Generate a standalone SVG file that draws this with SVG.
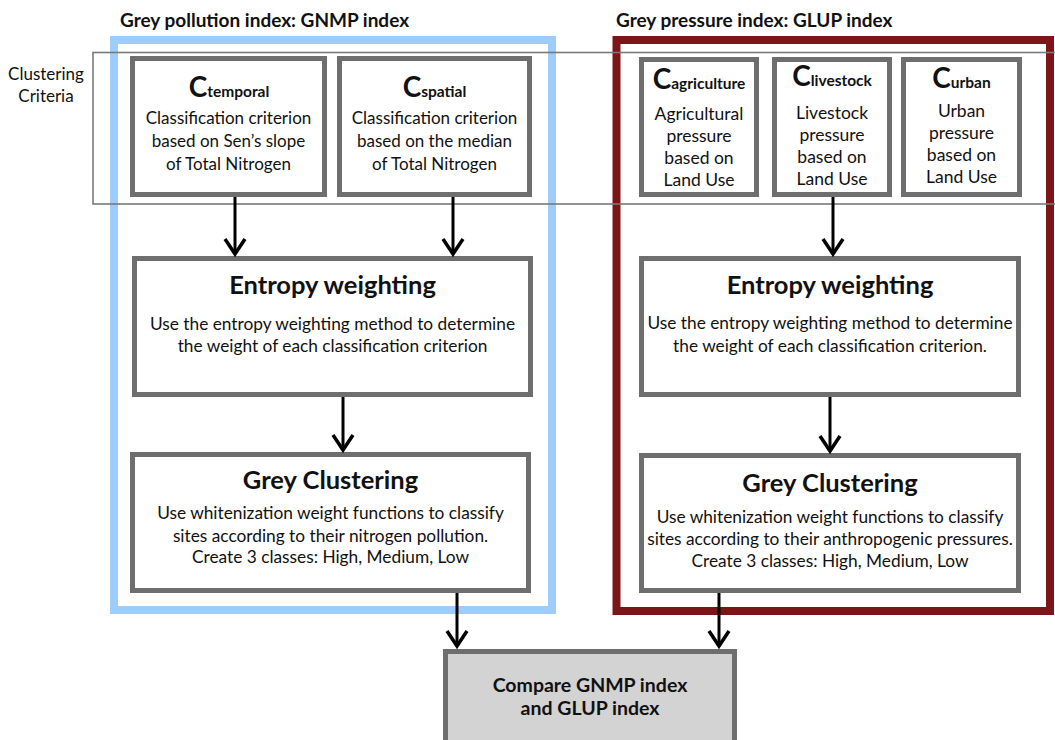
<svg xmlns="http://www.w3.org/2000/svg" width="1055" height="740" viewBox="0 0 1055 740">
<style>
text{font-family:Lato,"Open Sans","Liberation Sans",sans-serif;fill:#111;text-anchor:middle}
.hd{font-size:19px;font-weight:bold;text-anchor:start}
.lab{font-size:17px}
.box{fill:#fff;stroke:#6e6e6e;stroke-width:5}
.cmp{fill:#d3d3d3;stroke:#6e6e6e;stroke-width:5}
.c{font-size:28px;font-weight:bold}
.sub{font-size:15.5px;font-weight:bold}
.b{font-size:17px}
.b2{font-size:17.5px}
.t{font-size:25.5px;font-weight:bold}
.m{font-size:17.3px}
.ct{font-size:19.5px;font-weight:bold}
.conn line{stroke:#000;stroke-width:3}
</style>
<defs>
<marker id="ah" viewBox="0 0 24 24" refX="20" refY="12" markerWidth="24" markerHeight="24" orient="auto" markerUnits="userSpaceOnUse">
<path d="M5,2 L20,12 L5,22" fill="none" stroke="#000" stroke-width="3.5"/>
</marker>
</defs>
<rect width="1055" height="740" fill="#fff"/>

<g id="frame-gnmp">
<rect x="114" y="40" width="438" height="570" fill="none" stroke="#9fcdfb" stroke-width="8"/>
<text class="hd" x="120" y="27">Grey pollution index: GNMP index</text>
</g>
<g id="frame-glup">
<rect x="616.5" y="40" width="433.5" height="571" fill="none" stroke="#7d1518" stroke-width="8"/>
<text class="hd" x="616" y="27">Grey pressure index: GLUP index</text>
</g>

<g id="c-temporal">
<rect class="box" x="132.5" y="58.5" width="192" height="136"/>
<text x="229" y="97"><tspan class="c">C</tspan><tspan class="sub">temporal</tspan></text>
<text class="b" x="228.5" y="124">Classification criterion</text>
<text class="b" x="228.5" y="147">based on Sen’s slope</text>
<text class="b" x="228.5" y="170">of Total Nitrogen</text>
</g>
<g id="c-spatial">
<rect class="box" x="339.5" y="58.5" width="190" height="136"/>
<text x="434.5" y="97"><tspan class="c">C</tspan><tspan class="sub">spatial</tspan></text>
<text class="b" x="434.5" y="124">Classification criterion</text>
<text class="b" x="434.5" y="147">based on the median</text>
<text class="b" x="434.5" y="170">of  Total Nitrogen</text>
</g>

<g id="c-agriculture">
<rect class="box" x="641.5" y="59.5" width="115" height="135"/>
<text x="699" y="89"><tspan class="c">C</tspan><tspan class="sub">agriculture</tspan></text>
<text class="b2" x="699" y="120">Agricultural</text>
<text class="b2" x="699" y="142">pressure</text>
<text class="b2" x="699" y="164">based on</text>
<text class="b2" x="699" y="186">Land Use</text>
</g>
<g id="c-livestock">
<rect class="box" x="774.5" y="59.5" width="115" height="135"/>
<text x="832" y="86"><tspan class="c">C</tspan><tspan class="sub">livestock</tspan></text>
<text class="b2" x="832" y="119">Livestock</text>
<text class="b2" x="832" y="141">pressure</text>
<text class="b2" x="832" y="163">based on</text>
<text class="b2" x="832" y="185">Land Use</text>
</g>
<g id="c-urban">
<rect class="box" x="903.5" y="59.5" width="116" height="135"/>
<text x="961.5" y="88"><tspan class="c">C</tspan><tspan class="sub">urban</tspan></text>
<text class="b2" x="961.5" y="117">Urban</text>
<text class="b2" x="961.5" y="139">pressure</text>
<text class="b2" x="961.5" y="161">based on</text>
<text class="b2" x="961.5" y="183">Land Use</text>
</g>

<g id="criteria-band">
<rect x="93" y="52.5" width="970" height="151.5" fill="none" stroke="#7a7a7a" stroke-width="1.6"/>
<text class="lab" x="46" y="80">Clustering</text>
<text class="lab" x="46" y="102">Criteria</text>
</g>

<g id="entropy-gnmp">
<rect class="box" x="134.5" y="258.5" width="396" height="136"/>
<text class="t" x="332.5" y="294">Entropy weighting</text>
<text class="m" x="332.5" y="330">Use the entropy weighting method to determine</text>
<text class="m" x="332.5" y="352">the weight of each classification criterion</text>
</g>
<g id="cluster-gnmp">
<rect class="box" x="132.5" y="454.5" width="396" height="136"/>
<text class="t" x="330.5" y="489">Grey Clustering</text>
<text class="m" x="330.5" y="519">Use whitenization weight functions to classify</text>
<text class="m" x="330.5" y="542">sites according to their nitrogen pollution.</text>
<text class="m" x="330.5" y="563">Create 3 classes: High, Medium, Low</text>
</g>
<g id="entropy-glup">
<rect class="box" x="641.5" y="258.5" width="377" height="136"/>
<text class="t" x="830" y="294">Entropy weighting</text>
<text class="m" x="830" y="329">Use the entropy weighting method to determine</text>
<text class="m" x="830" y="352">the weight of each classification criterion.</text>
</g>
<g id="cluster-glup">
<rect class="box" x="641.5" y="455.5" width="377" height="135"/>
<text class="t" x="830" y="492">Grey Clustering</text>
<text class="m" x="830" y="523">Use whitenization weight functions to classify</text>
<text class="m" x="830" y="545">sites according to their anthropogenic pressures.</text>
<text class="m" x="830" y="567">Create 3 classes: High, Medium, Low</text>
</g>

<g id="compare">
<rect class="cmp" x="445.5" y="651.5" width="289" height="100"/>
<text class="ct" x="590" y="692">Compare GNMP index</text>
<text class="ct" x="590" y="715">and GLUP index</text>
</g>

<g id="connectors" class="conn">
<line x1="235" y1="197" x2="235" y2="254" marker-end="url(#ah)"/>
<line x1="453" y1="197" x2="453" y2="254" marker-end="url(#ah)"/>
<line x1="833" y1="197" x2="833" y2="254" marker-end="url(#ah)"/>
<line x1="343" y1="397" x2="343" y2="450" marker-end="url(#ah)"/>
<line x1="830" y1="397" x2="830" y2="451" marker-end="url(#ah)"/>
<line x1="457" y1="593" x2="457" y2="646" marker-end="url(#ah)"/>
<line x1="719" y1="593" x2="719" y2="646" marker-end="url(#ah)"/>
</g>
</svg>
